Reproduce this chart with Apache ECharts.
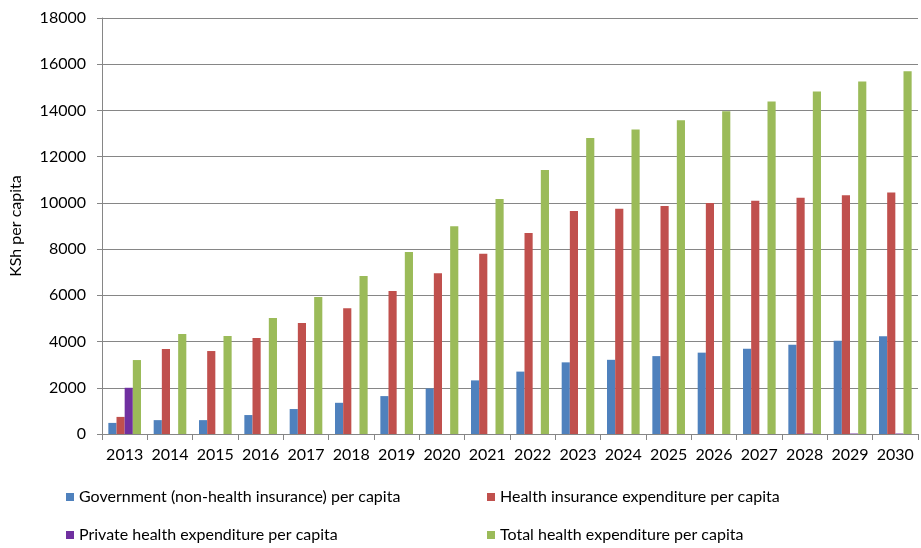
<!DOCTYPE html>
<html>
<head>
<meta charset="utf-8">
<script src="https://cdn.jsdelivr.net/npm/echarts@6/dist/echarts.min.js"></script>
<style>html,body{margin:0;padding:0;background:#fff}#c{width:921px;height:548px}</style>
</head>
<body>
<div id="c"></div>
<script>
const years = ['2013','2014','2015','2016','2017','2018','2019','2020','2021','2022','2023','2024','2025','2026','2027','2028','2029','2030'];
const government = [480, 600, 600, 820, 1080, 1350, 1640, 1970, 2320, 2700, 3100, 3210, 3370, 3520, 3690, 3860, 4040, 4230];
const healthInsurance = [740, 3680, 3590, 4150, 4800, 5440, 6190, 6960, 7800, 8700, 9650, 9750, 9870, 9990, 10090, 10220, 10330, 10450];
const privateExp = [2000, 0, 0, 0, 0, 0, 0, 0, 0, 0, 0, 0, 0, 0, 0, 20, 20, 20];
const total = [3200, 4330, 4240, 5020, 5930, 6840, 7870, 8990, 10170, 11420, 12810, 13180, 13580, 13970, 14390, 14820, 15250, 15700];
const yTicks = { min: 0, max: 18000, interval: 2000 };

const names = ['Government (non-health insurance) per capita','Health insurance expenditure per capita','Private health expenditure per capita','Total health expenditure per capita'];
const colors = ['#4F81BD','#C0504D','#7030A0','#9BBB59'];
const font = 'Lato, "Open Sans", sans-serif';
const chart = echarts.init(document.getElementById('c'));
const legendPos = [[66,489],[487,489],[66,527],[487,527]];
chart.setOption({
  animation: false,
  textStyle: { fontFamily: font },
  grid: { left: 102, right: 3, top: 18, bottom: 114 },
  legend: names.map((n, i) => ({
    data: [n], left: legendPos[i][0], top: legendPos[i][1],
    itemWidth: 8, itemHeight: 8, itemGap: 4, icon: 'rect', padding: 0,
    textStyle: { fontFamily: font, fontSize: 16, color: '#000' }
  })),
  xAxis: {
    type: 'category', data: years,
    axisLine: { lineStyle: { color: '#868686' } },
    axisTick: { show: true, length: 6, lineStyle: { color: '#868686' } },
    axisLabel: { color: '#000', fontSize: 16, margin: 13, fontFamily: font, interval: 0 }
  },
  yAxis: {
    type: 'value', min: yTicks.min, max: yTicks.max, interval: yTicks.interval,
    name: 'KSh per capita', nameLocation: 'middle', nameGap: 78,
    nameTextStyle: { color: '#000', fontSize: 16, fontFamily: font },
    axisLine: { show: true, lineStyle: { color: '#868686' } },
    axisTick: { show: true, length: 5, lineStyle: { color: '#868686' } },
    axisLabel: { color: '#000', fontSize: 16, margin: 16, fontFamily: font, formatter: v => String(v) },
    splitLine: { lineStyle: { color: '#868686', width: 1 } }
  },
  series: [government, healthInsurance, privateExp, total].map((d, i) => ({
    name: names[i], type: 'bar', data: d,
    barGap: '0%', barCategoryGap: '28%',
    itemStyle: { color: colors[i] }
  }))
});
</script>
</body>
</html>
